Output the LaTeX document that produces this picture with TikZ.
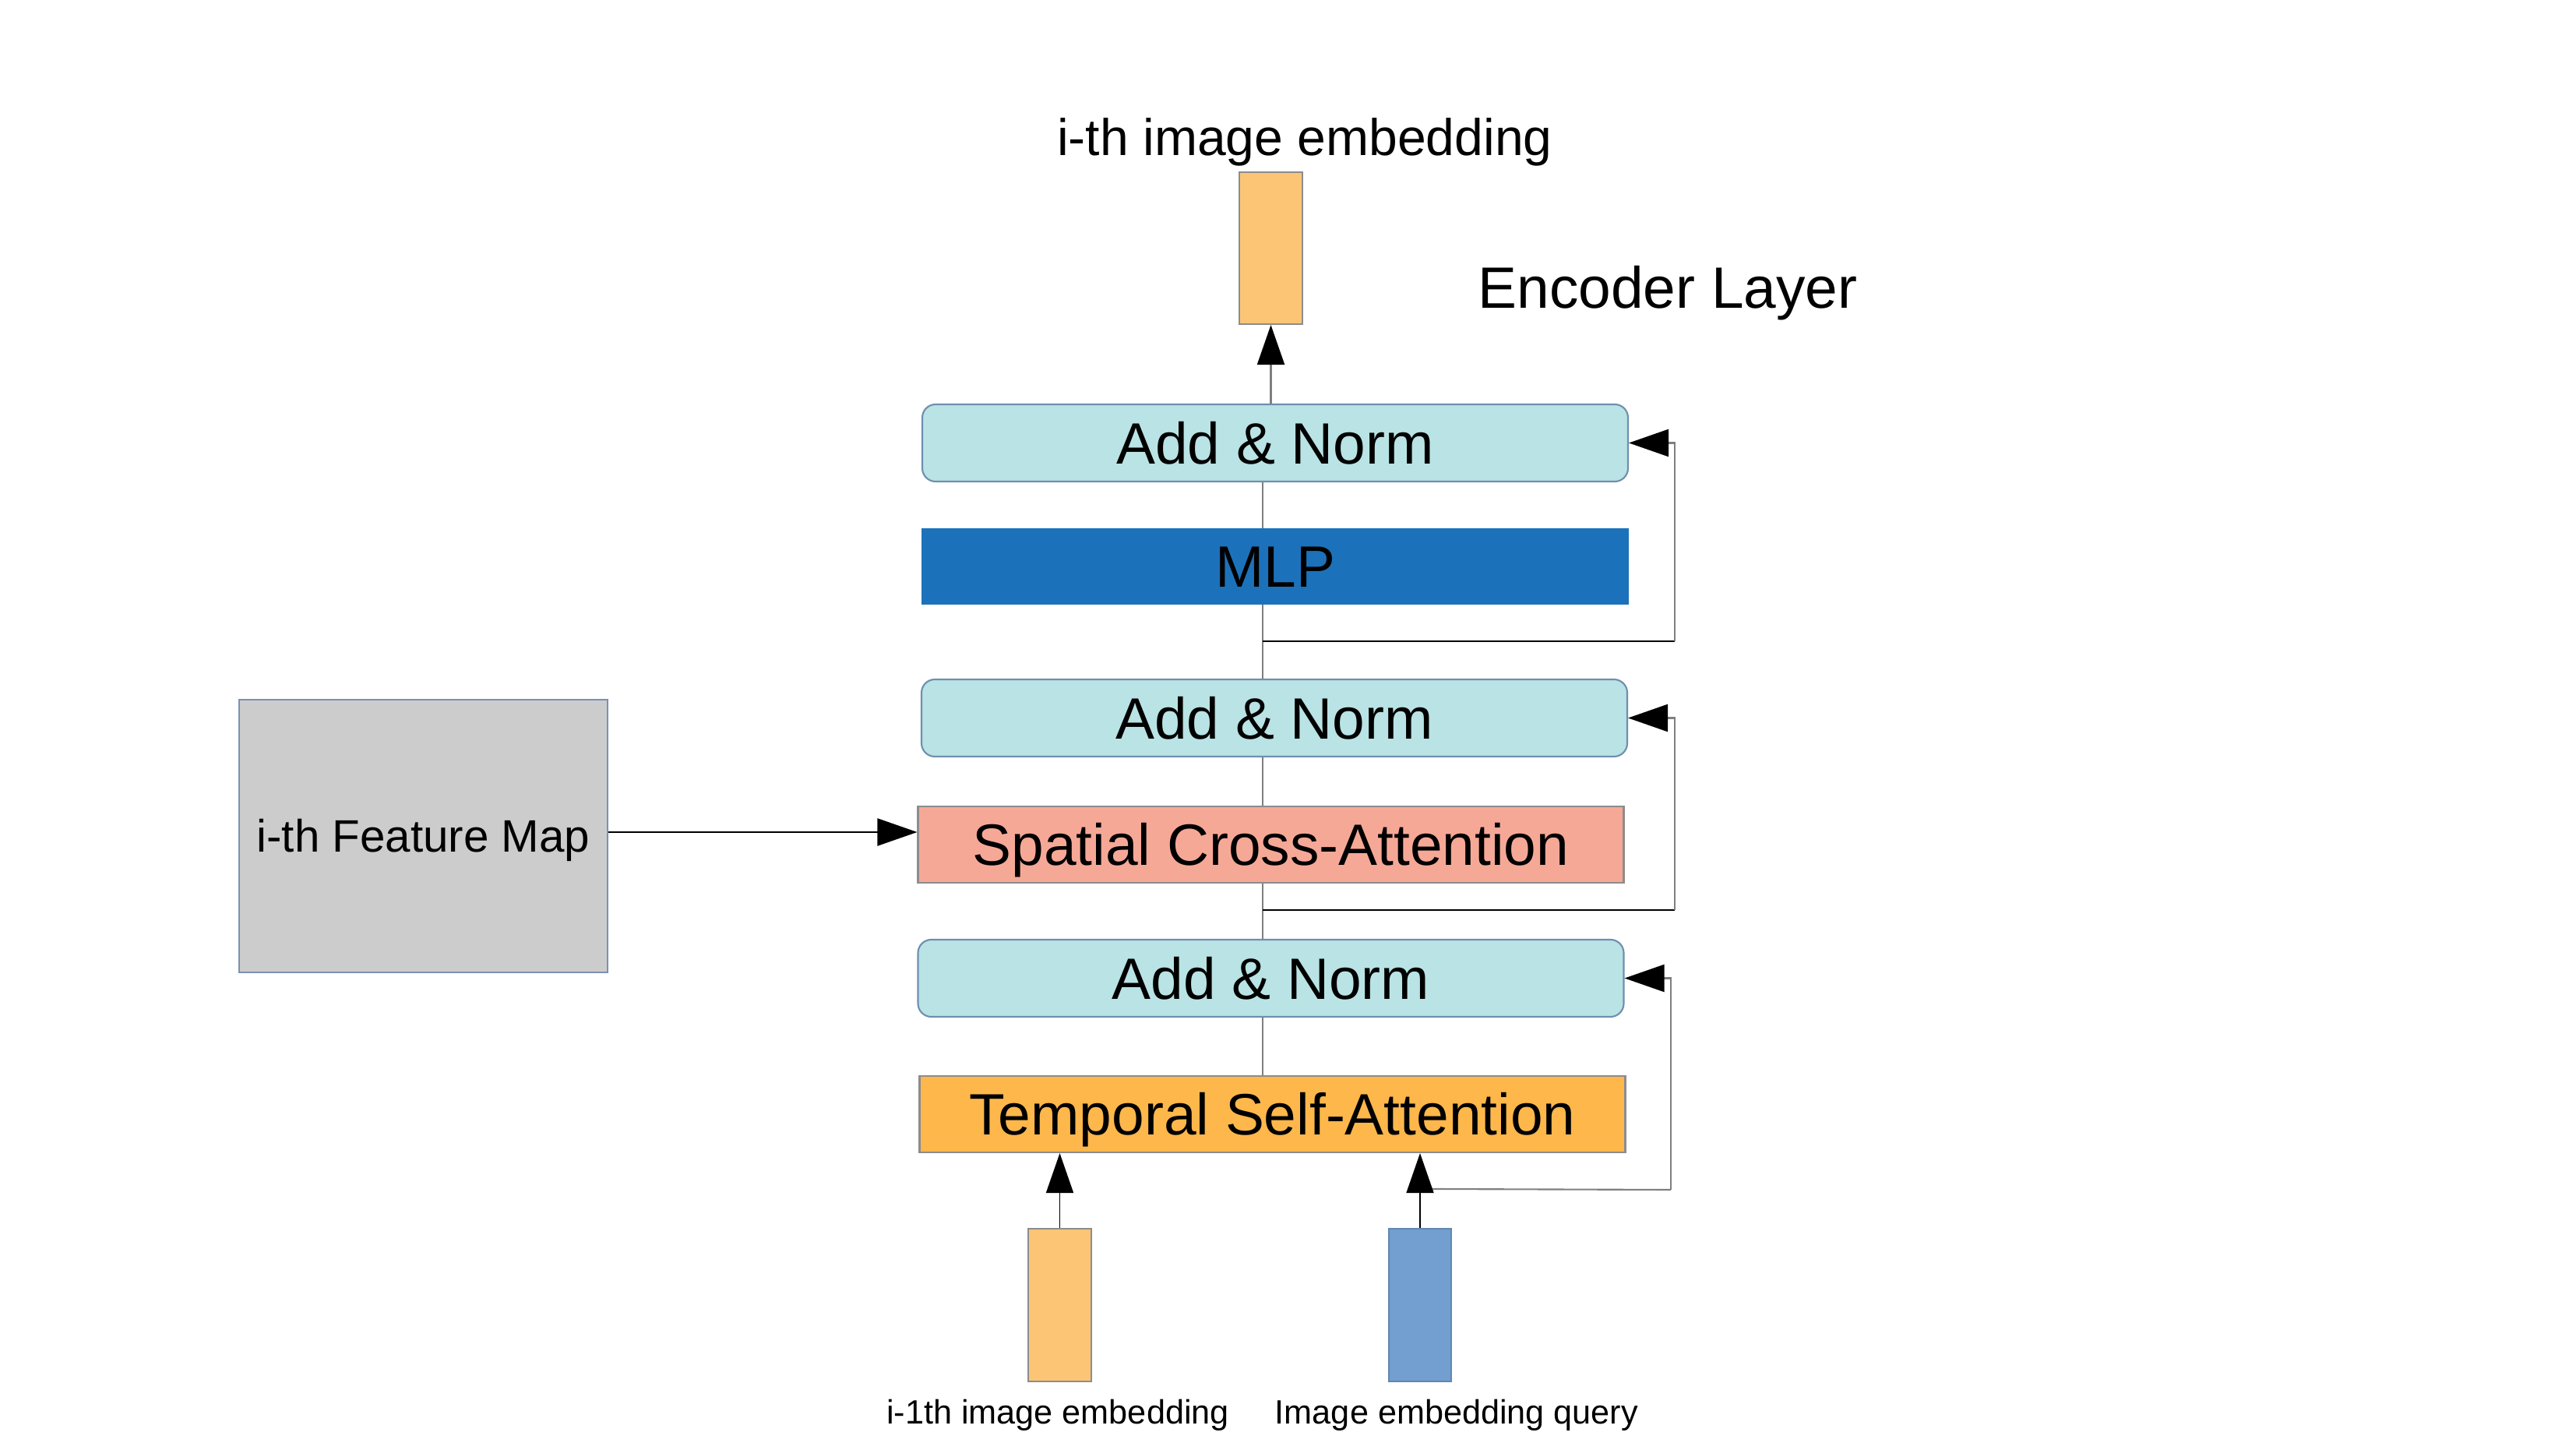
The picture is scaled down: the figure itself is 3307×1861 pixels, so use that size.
\documentclass[tikz,border=0pt]{standalone}
\usepackage{fontspec}
\setmainfont{Liberation Sans}
\usetikzlibrary{arrows.meta,calc}
\definecolor{anfill}{HTML}{B9E3E4}
\definecolor{anline}{HTML}{6F8FAF}
\definecolor{mlpfill}{HTML}{1C72BA}
\definecolor{scafill}{HTML}{F6A897}
\definecolor{tsafill}{HTML}{FDB74B}
\definecolor{embfill}{HTML}{FCC576}
\definecolor{qfill}{HTML}{729FCF}
\definecolor{fmfill}{HTML}{CCCCCC}
\definecolor{fmline}{HTML}{7B90B5}
\definecolor{grayline}{HTML}{7F7F7F}
\definecolor{boxline}{HTML}{8C8C8C}
\begin{document}
\begin{tikzpicture}[x=0.1mm,y=-0.1mm,
  big/.style={font=\fontsize{21.3}{25.6}\selectfont},
  blk/.style={big, draw, line width=0.6pt, inner sep=0pt, minimum width=90.6mm,
    minimum height=9.9mm, text height=15.25pt, text depth=0pt},
  anbox/.style={blk, fill=anfill, draw=anline, rounded corners=1.7mm},
  bar/.style={draw=boxline, line width=0.6pt, inner sep=0pt, minimum width=8.1mm, minimum height=19.5mm},
  gl/.style={draw=grayline, line width=0.6pt},
  bl/.style={draw=black, line width=0.6pt},
  arr/.style={-{Triangle[length=5.1mm,width=3.5mm,color=black,fill=black]}},
  lbl/.style={anchor=base, inner sep=0pt, font=\fontsize{12.3}{14.8}\selectfont}
]
\useasboundingbox (0,0) rectangle (3307,1861);

% boxes
\node[anbox] (an3) at (1637,568.5) {Add \& Norm};
\node[blk, fill=mlpfill, draw=mlpfill, minimum height=9.6mm] (mlp) at (1637,727) {MLP};
\node[anbox] (an2) at (1636,921.5) {Add \& Norm};
\node[blk, fill=scafill, draw=boxline, minimum height=9.8mm] (sca) at (1631.5,1084) {Spatial Cross-Attention};
\node[anbox] (an1) at (1631.5,1255.5) {Add \& Norm};
\node[blk, fill=tsafill, draw=boxline, minimum height=9.8mm] (tsa) at (1633.5,1430) {Temporal Self-Attention};

% embeddings
\node[bar, fill=embfill] (emb) at (1631.5,318.5) {};
\node[bar, fill=embfill, minimum height=19.6mm] (emb1) at (1360.5,1675) {};
\node[bar, fill=qfill, draw=qfill!85!black, minimum width=8.0mm, minimum height=19.6mm] (query) at (1823,1675) {};

% feature map
\node[draw=fmline, fill=fmfill, line width=0.6pt, inner sep=0pt, minimum width=47.3mm, minimum height=35mm,
  text height=11.9pt, text depth=0pt, font=\fontsize{16.6}{20}\selectfont] (fm) at (543.5,1073) {i-th Feature Map};

% texts
\node[anchor=base, inner sep=0pt, font=\fontsize{18.8}{22.6}\selectfont] (title) at (1675,200) {i-th image embedding};
\node[anchor=base, inner sep=0pt, big] (enc) at (2141,396) {Encoder Layer};
\node[lbl] (l1) at (1358,1827) {i-1th image embedding};
\node[lbl] (l2) at (1870,1827) {Image embedding query};

% spine
\coordinate (sx) at (1621,0);
\draw[gl] (tsa.north -| sx) -- (an1.south -| sx);
\draw[gl] (an1.north -| sx) -- (sca.south -| sx);
\draw[gl] (sca.north -| sx) -- (an2.south -| sx);
\draw[gl] (an2.north -| sx) -- (mlp.south -| sx);
\draw[gl] (mlp.north -| sx) -- (an3.south -| sx);
\draw[gl, arr] (an3.north -| emb.south) -- (emb.south);

% residual connections
\coordinate (r3) at (1621,823);
\coordinate (r3c) at (2150,823);
\draw[bl] (r3) -- (r3c);
\draw[gl, arr] (r3c) |- (an3.east);

\coordinate (r2) at (1621,1168);
\coordinate (r2c) at (2150,1168);
\draw[bl] (r2) -- (r2c);
\draw[gl, arr] (r2c) |- (an2.east);

\coordinate (r1) at ($(query.north)+(0,-50)$);
\coordinate (r1c) at (2145,1527);
\draw[gl] (r1) -- (r1c);
\draw[gl, arr] (r1c) |- (an1.east);

% inputs
\draw[bl, line width=0.5pt, arr] (emb1.north) -- (emb1.north |- tsa.south);
\draw[bl, line width=0.5pt, arr] (query.north) -- (query.north |- tsa.south);
\draw[bl, arr] (fm.east |- 0,1068) -- (sca.west |- 0,1068);
\end{tikzpicture}
\end{document}
